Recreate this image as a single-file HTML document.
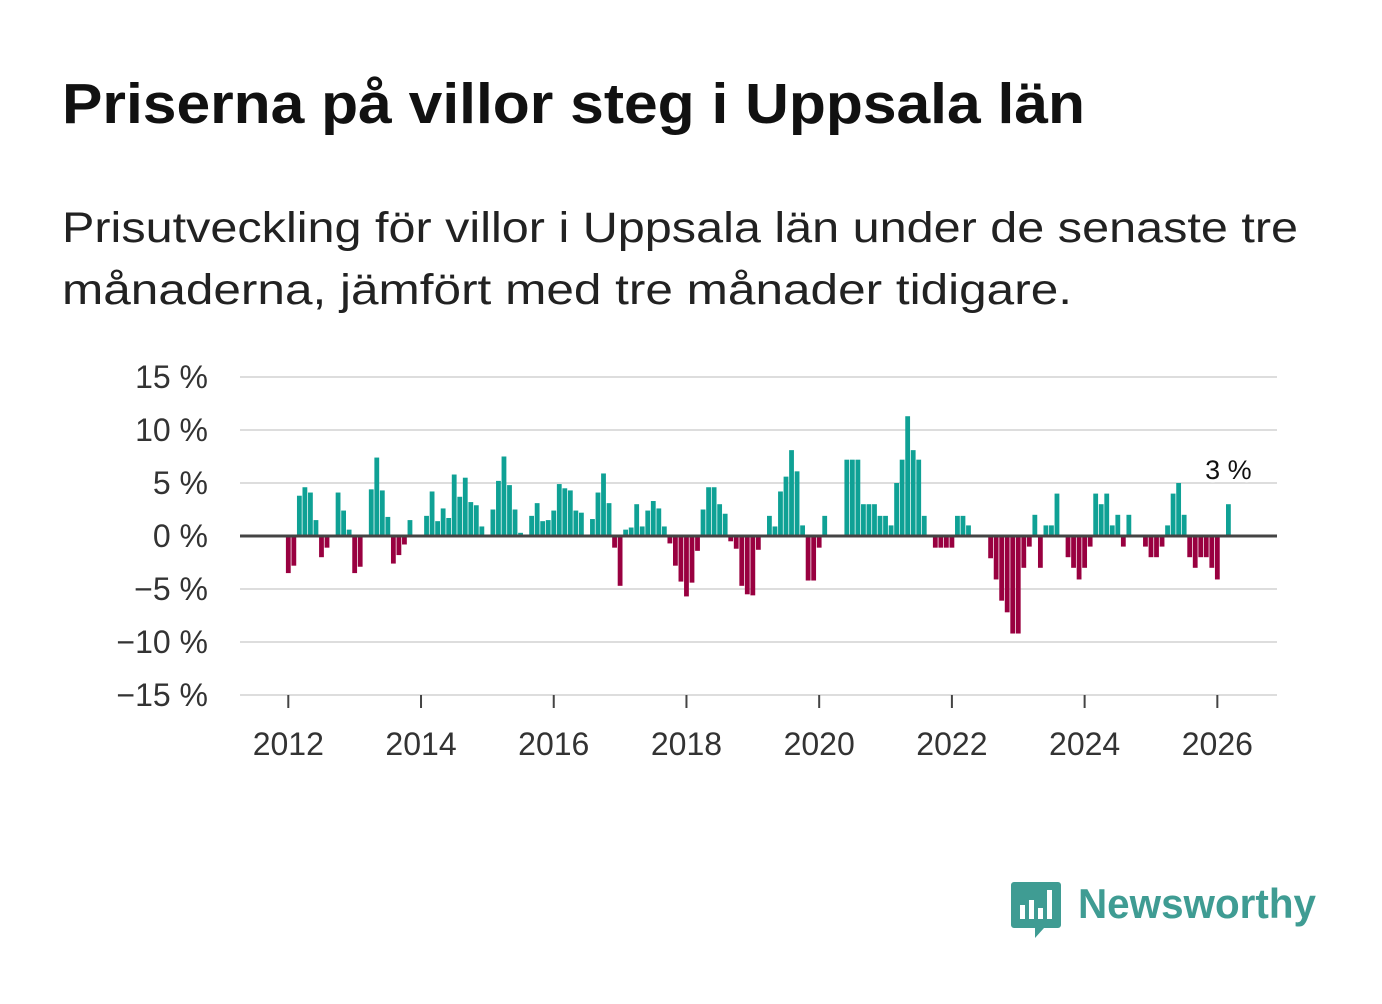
<!DOCTYPE html>
<html><head><meta charset="utf-8"><style>
html,body{margin:0;padding:0;background:#fff;}
svg text{font-family:"Liberation Sans",sans-serif;}
</style></head><body>
<svg id="chart" width="1382" height="999" viewBox="0 0 1382 999" xmlns="http://www.w3.org/2000/svg">
<text x="62" y="123" font-size="57" font-weight="bold" fill="#111" textLength="1023" lengthAdjust="spacingAndGlyphs">Priserna på villor steg i Uppsala län</text>
<text x="62" y="242" font-size="43" fill="#222" textLength="1236" lengthAdjust="spacingAndGlyphs">Prisutveckling för villor i Uppsala län under de senaste tre</text>
<text x="62" y="304" font-size="43" fill="#222" textLength="1010" lengthAdjust="spacingAndGlyphs">månaderna, jämfört med tre månader tidigare.</text>
<g id="grid"></g>
<g id="bars"></g>
<g id="axes"></g>
<g>
<path d="M1014 882 h44 a3 3 0 0 1 3 3 v40 a3 3 0 0 1 -3 3 h-14 l-9 10 v-10 h-21 a3 3 0 0 1 -3 -3 v-40 a3 3 0 0 1 3 -3z" fill="#3f9c93"/>
<rect x="1020" y="905" width="5" height="14" fill="#fff"/><rect x="1029" y="900" width="5" height="19" fill="#fff"/><rect x="1038" y="908" width="5" height="11" fill="#fff"/><rect x="1047" y="890" width="5" height="29" fill="#fff"/>
<text x="1078" y="918" font-size="42" font-weight="bold" fill="#3f9c93" textLength="238" lengthAdjust="spacingAndGlyphs">Newsworthy</text>
</g>
</svg>
<script>
const startYear = 2012;
const values = [-3.5,-2.8,3.8,4.6,4.1,1.5,-2.0,-1.1,0,4.1,2.4,0.6,
-3.5,-2.9,0,4.4,7.4,4.3,1.8,-2.6,-1.8,-0.8,1.5,0,
0,1.9,4.2,1.4,2.6,1.7,5.8,3.7,5.5,3.2,2.9,0.9,
0,2.5,5.2,7.5,4.8,2.5,0.3,0,1.9,3.1,1.4,1.5,
2.4,4.9,4.5,4.3,2.4,2.2,0,1.6,4.1,5.9,3.1,-1.1,
-4.7,0.6,0.8,3.0,0.9,2.4,3.3,2.6,0.9,-0.7,-2.8,-4.3,
-5.7,-4.4,-1.4,2.5,4.6,4.6,3.0,2.1,-0.5,-1.2,-4.7,-5.5,
-5.6,-1.3,0,1.9,0.9,4.2,5.6,8.1,6.1,1.0,-4.2,-4.2,
-1.1,1.9,0,0,0,7.2,7.2,7.2,3.0,3.0,3.0,1.9,
1.9,1.0,5.0,7.2,11.3,8.1,7.2,1.9,0,-1.1,-1.1,-1.1,
-1.1,1.9,1.9,1.0,0,0,0,-2.1,-4.1,-6.1,-7.2,-9.2,
-9.2,-3.0,-1.0,2.0,-3.0,1.0,1.0,4.0,0,-2.0,-3.0,-4.1,
-3.0,-1.0,4.0,3.0,4.0,1.0,2.0,-1.0,2.0,0,0,-1.0,
-2.0,-2.0,-1.0,1.0,4.0,5.0,2.0,-2.0,-3.0,-2.0,-2.0,-3.0,
-4.1,0,3.0];
const yTicks = [15,10,5,0,-5,-10,-15];
const yTickLabels = ["15 %","10 %","5 %","0 %","\u22125 %","\u221210 %","\u221215 %"];
const xTicks = [2012,2014,2016,2018,2020,2022,2024,2026];
const lastLabel = "3 %";

const NS="http://www.w3.org/2000/svg";
const y = v => 536 - v*10.6;
const x = m => 288.3 + m*5.53;
const xYear = yr => x((yr-startYear)*12);
function mk(tag, attrs, parent){const e=document.createElementNS(NS,tag);for(const k in attrs)e.setAttribute(k,attrs[k]);parent.appendChild(e);return e;}
const grid=document.getElementById('grid'), bars=document.getElementById('bars'), axes=document.getElementById('axes');
yTicks.forEach((t,i)=>{
  if(t!==0){const l=mk('line',{x1:240,x2:1277,y1:y(t),y2:y(t),stroke:'#dddddd','stroke-width':2},grid);
  
  }
  const tx=mk('text',{x:208,y:y(t)+11,'font-size':32,fill:'#333','text-anchor':'end'},axes);
  tx.textContent=yTickLabels[i];
  
  
});
values.forEach((v,i)=>{
  if(v===0)return;
  const r=mk('rect',{x:x(i)-2.4,width:4.8,y:v>0?y(v):536,height:Math.abs(v)*10.6,fill:v>0?'#0fa195':'#990040'},bars);
  
  
});
const zl=mk('line',{x1:240,x2:1277,y1:536,y2:536,stroke:'#444','stroke-width':3},axes);


xTicks.forEach(yr=>{
  const tk=mk('line',{x1:xYear(yr),x2:xYear(yr),y1:695,y2:708,stroke:'#444','stroke-width':2},axes);
  
  
  const tx=mk('text',{x:xYear(yr),y:755,'font-size':32,fill:'#333','text-anchor':'middle'},axes);
  tx.textContent=yr;
  
  
});
const li=values.length-1;
const lbl=mk('text',{x:x(li),y:y(values[li])-25,'font-size':27,fill:'#111','text-anchor':'middle',stroke:'#fff','stroke-width':6,'paint-order':'stroke'},axes);
lbl.textContent=lastLabel;


</script>
</body></html>
